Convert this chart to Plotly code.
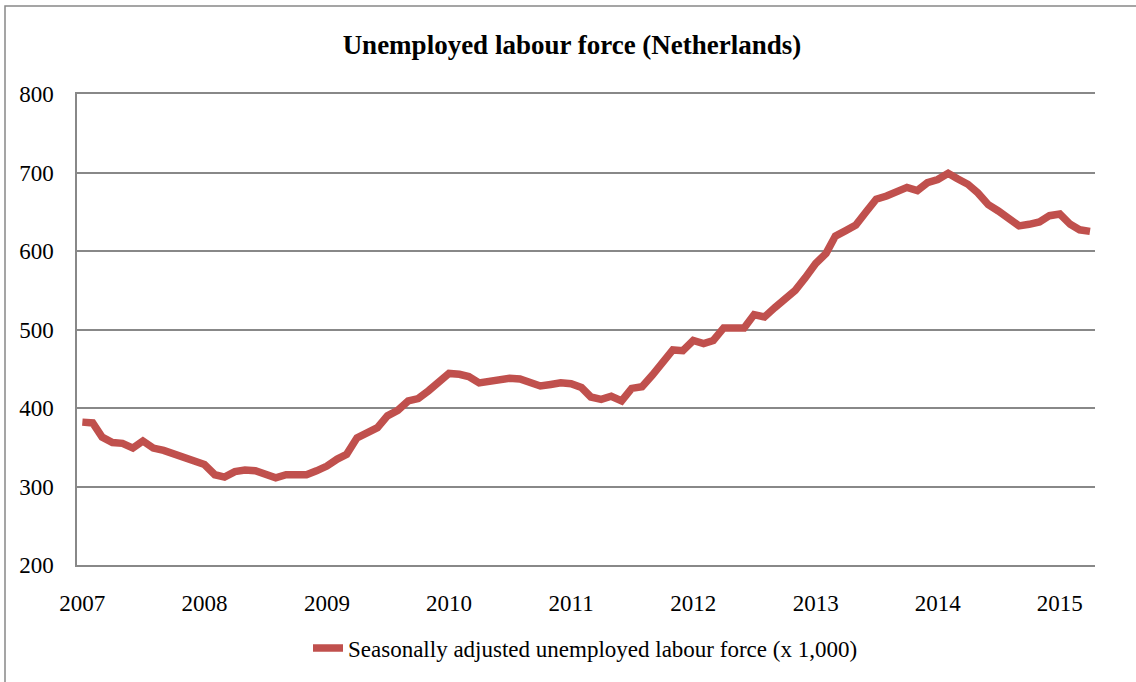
import plotly.graph_objects as go
import pandas as pd

# Monthly observations, January 2007 through April 2015
months = pd.date_range("2007-01-01", "2015-04-01", freq="MS").strftime("%Y-%m-%d").tolist()

# Seasonally adjusted unemployed labour force (x 1,000)
unemployed = [
    382, 381, 363, 356, 355, 349, 358, 349, 346, 341, 337, 332,   # 2007
    328, 315, 312, 319, 321, 320, 316, 311, 315, 314, 315, 320,   # 2008
    326, 335, 341, 362, 368, 375, 390, 397, 409, 412, 422, 433,   # 2009
    444, 443, 440, 432, 434, 434, 438, 437, 433, 428, 430, 432,   # 2010
    431, 426, 414, 411, 415, 409, 425, 427, 442, 458, 474, 473,   # 2011
    486, 482, 486, 502, 501, 502, 519, 516, 528, 538, 550, 566,   # 2012
    584, 597, 619, 626, 633, 650, 666, 670, 676, 681, 677, 687,   # 2013
    691, 699, 692, 685, 674, 659, 651, 640, 632, 634, 637, 645,   # 2014
    647, 634, 627, 625,                                           # 2015
]

year_ticks = [f"{y}-01-01" for y in range(2007, 2016)]
year_labels = [str(y) for y in range(2007, 2016)]

series_name = "Seasonally adjusted unemployed labour force (x 1,000)"
chart_title = "Unemployed labour force (Netherlands)"

FONT = "Liberation Serif"
GRID = "#888888"
RED = "#C0504D"

fig = go.Figure()
fig.add_trace(go.Scatter(
    x=months,
    y=unemployed,
    mode="lines",
    name=series_name,
    line=dict(color=RED, width=7.5, shape="linear"),
))

fig.update_layout(
    width=1136,
    height=682,
    paper_bgcolor="white",
    plot_bgcolor="white",
    margin=dict(l=77, r=41, t=94, b=117, autoexpand=False),
    font=dict(family=FONT, size=23, color="black"),
    title=dict(
        text=f"<b>{chart_title}</b>",
        x=572 / 1136,
        xanchor="center",
        xref="container",
        y=1 - 45 / 682,
        yanchor="middle",
        yref="container",
        font=dict(family=FONT, size=27, color="black"),
    ),
    showlegend=True,
    legend=dict(
        orientation="h",
        x=(308 - 77) / 1018,
        xanchor="left",
        y=(565 - 648) / 471,
        yanchor="middle",
        font=dict(family=FONT, size=23, color="black"),
        bgcolor="rgba(0,0,0,0)",
    ),
    xaxis=dict(
        type="date",
        range=["2006-12-16", "2015-04-16"],
        tickvals=year_ticks,
        ticktext=year_labels,
        showgrid=False,
        zeroline=False,
        showline=True,
        mirror=True,
        linecolor=GRID,
        linewidth=1.5,
        ticks="",
        ticklabelstandoff=17,
        tickfont=dict(family=FONT, size=23, color="black"),
    ),
    yaxis=dict(
        range=[200, 800],
        tickvals=[200, 300, 400, 500, 600, 700, 800],
        showgrid=True,
        gridcolor=GRID,
        gridwidth=1.5,
        zeroline=False,
        showline=True,
        linecolor=GRID,
        linewidth=1.5,
        ticks="",
        ticklabelstandoff=17,
        tickfont=dict(family=FONT, size=23, color="black"),
    ),
    shapes=[
        # Outer chart frame (extends past the right and bottom edges)
        dict(
            type="rect",
            xref="paper", yref="paper",
            x0=(5 - 77) / 1018, x1=(1145 - 77) / 1018,
            y0=(565 - 700) / 471, y1=(565 - 6) / 471,
            line=dict(color=GRID, width=1.5),
            fillcolor="rgba(0,0,0,0)",
            layer="below",
        ),
    ],
)

fig.write_html("out.html")
